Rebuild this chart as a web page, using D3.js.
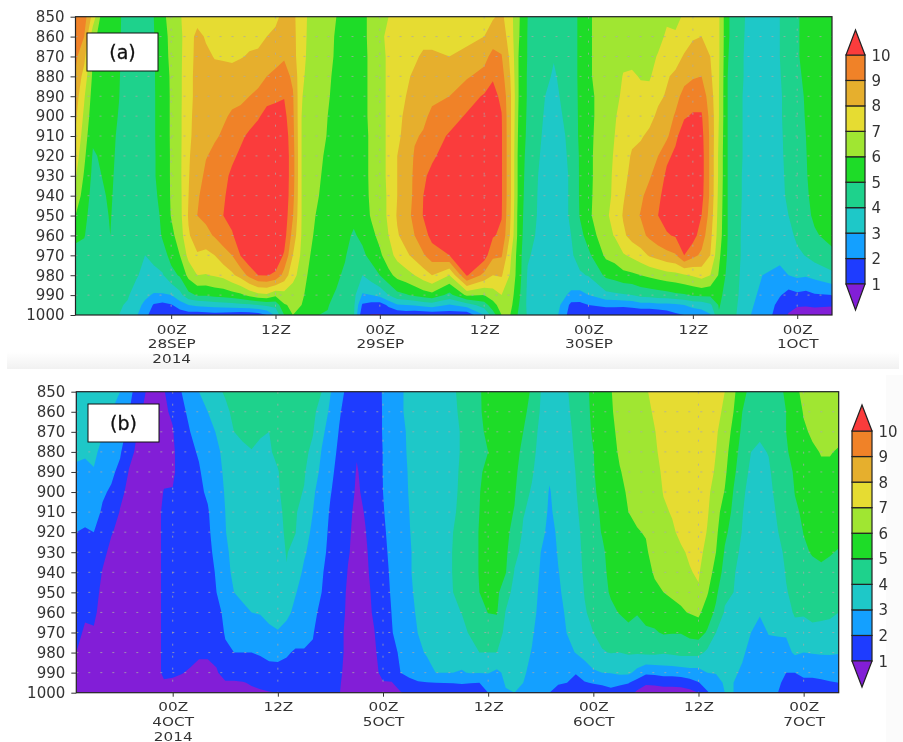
<!DOCTYPE html>
<html><head><meta charset="utf-8">
<script src="https://cdn.jsdelivr.net/npm/d3@7/dist/d3.min.js"></script>
<style>html,body{margin:0;padding:0;background:#fff}svg{display:block}</style>
</head><body><svg id="c" width="903" height="742"></svg>
<script>
const levels=[850,860,870,880,890,900,910,920,930,940,950,960,970,980,990,995,1000];
const levelTicks=d3.range(850,1001,10);
const thresholds=[1,2,3,4,5,6,7,8,9,10];
const colors=["#821ed7","#1e3cff","#14a0ff","#1ec8c8","#1ed28c","#1edc28","#a0e632","#e6dc32","#e6af2d","#f08228","#fa3c3c"];
const hourTicks=[0,12,24,36,48,60,72];
const tickLinesA=[["00Z","28SEP","2014"],["12Z"],["00Z","29SEP"],["12Z"],["00Z","30SEP"],["12Z"],["00Z","1OCT"]];
const tickLinesB=[["00Z","4OCT","2014"],["12Z"],["00Z","5OCT"],["12Z"],["00Z","6OCT"],["12Z"],["00Z","7OCT"]];
const hoursA=[-11,-10,-9,-8,-7,-6,-5,-4,-3,-2,-1,0,1,2,3,4,5,6,7,8,9,10,11,12,13,14,15,16,17,18,19,20,21,22,23,24,25,26,27,28,29,30,32,34,36,37,38,39,40,41,43,44,45,46,47,48,50,51,52,53,54,55,56,57,58,59,60,61,62,63,64,65,66,67,68,69,70,71,72,73,74,76];
const valuesA=[
[9.8,9.5,9.2,8.9,8.5,8.2,7.9,7.5,7.1,6.6,6.0,5.2,4.7,4.5,4.3,4.2,4.1],
[9.5,9,8.3,7.6,7.1,6.8,6.5,6.2,5.9,5.6,5.3,5.05,4.7,4.5,4.3,4.2,4.1],
[7.6,6.3,6.0,5.8,5.6,5.4,5.15,4.9,4.75,4.6,4.5,4.5,4.5,4.4,4.3,4.2,4.1],
[5.7,5.6,5.5,5.4,5.4,5.3,5.2,5.1,5.0,4.9,4.8,4.7,4.6,4.5,4.3,4.2,4.1],
[5.4,5.4,5.3,5.3,5.3,5.3,5.25,5.2,5.15,5.1,5.05,5.0,4.7,4.5,4.3,4.2,4.1],
[5.1,5.1,5.1,5.05,5.02,4.95,4.85,4.8,4.75,4.7,4.65,4.6,4.5,4.4,4.2,4.1,4.0],
[4.7,4.6,4.6,4.6,4.5,4.5,4.5,4.5,4.5,4.5,4.4,4.4,4.4,4.3,4.1,3.9,3.7],
[4.6,4.5,4.5,4.5,4.5,4.5,4.5,4.5,4.5,4.5,4.4,4.4,4.3,4.1,3.6,3.3,3.1],
[4.8,4.7,4.6,4.6,4.6,4.6,4.6,4.6,4.6,4.5,4.4,4.2,4.0,3.7,3.2,2.8,2.4],
[5.0,4.95,4.9,4.9,4.9,4.9,4.9,4.9,4.9,4.8,4.6,4.4,4.2,3.8,2.9,1.9,1.3],
[5.8,5.7,5.6,5.6,5.5,5.5,5.5,5.4,5.4,5.3,5.2,5.1,4.6,3.9,2.9,1.7,1.1],
[6.3,6.2,6.2,6.1,6.1,6.1,6.1,6.1,6.1,6.1,6.05,5.7,5.3,4.7,3.0,1.9,1.4],
[6.9,6.8,6.8,6.8,6.8,6.8,6.8,6.8,6.8,6.75,6.7,6.5,6.0,5.1,3.7,2.5,1.4],
[7.5,7.5,7.6,7.7,7.7,7.8,7.8,7.9,7.95,8.0,8.1,7.9,7.3,6.3,4.7,3.0,1.5],
[7.6,8.3,8.3,8.3,8.3,8.3,8.4,8.5,8.6,8.9,9.0,8.5,7.9,7.0,5.1,3.2,1.4],
[7.5,7.9,8.2,8.3,8.4,8.5,8.7,8.95,9.2,9.3,9.25,8.7,7.7,6.95,5.1,3.3,1.5],
[7.3,7.5,7.95,8.3,8.5,8.7,8.9,9.2,9.5,9.6,9.6,9.1,8.0,7.1,5.3,3.4,1.6],
[7.3,7.5,7.9,8.35,8.6,8.9,9.1,9.4,9.7,9.9,10.0,9.5,8.6,7.3,5.4,3.5,1.5],
[7.3,7.5,7.9,8.2,8.8,9.1,9.3,9.8,10.2,10.3,10.3,9.9,9.0,7.8,5.6,3.6,1.4],
[7.4,7.6,7.95,8.4,8.8,9.25,9.8,10.2,10.6,10.8,10.8,10.5,10.05,8.4,5.8,3.7,1.3],
[7.5,7.8,8.07,8.5,9.0,9.5,10.2,10.8,11,11,11,11,10.8,9.3,6.3,3.8,1.3],
[7.6,7.85,8.1,8.7,9.2,9.9,10.4,11.1,11.1,11.1,11.1,11.1,11,10.0,6.7,4,1.5],
[7.7,8.0,8.5,9.0,9.7,10.3,10.9,11.1,11.2,11.2,11.2,11.2,11.1,10.05,6.8,4.2,2.0],
[7.7,8.3,8.7,9.2,9.8,10.4,10.8,11,11,11,11,11,10.6,9.85,6.2,4.3,3.2],
[8.4,8.6,8.9,9.4,9.95,10.3,10.6,10.7,10.7,10.7,10.6,10.4,9.9,8.6,6.6,5.9,5.0],
[8.2,8.3,8.4,8.8,9.1,9.2,9.3,9.4,9.4,9.3,9.05,8.6,8.0,7.3,6.5,6.2,6.0],
[7.5,7.4,7.3,7.2,7.05,7.0,7.0,7.0,7.0,7.0,7.0,6.95,6.8,6.6,6.3,6.0,5.6],
[6.7,6.7,6.7,6.6,6.6,6.6,6.6,6.5,6.5,6.4,6.3,6.2,6.0,5.7,5.3,5.1,5.0],
[6.5,6.5,6.5,6.5,6.4,6.4,6.3,6.2,6.1,6.0,5.8,5.6,5.4,5.3,5.2,5.1,5.0],
[6.3,6.3,6.2,6.15,6.1,6.0,5.95,5.8,5.7,5.6,5.5,5.4,5.3,5.2,5.1,5.05,4.95],
[6.0,5.9,5.9,5.8,5.7,5.6,5.5,5.4,5.4,5.3,5.3,5.3,5.2,5.1,4.95,4.75,4.6],
[5.5,5.5,5.5,5.5,5.4,5.4,5.4,5.4,5.4,5.3,5.3,5.2,5.05,4.9,4.6,4.4,4.2],
[5.5,5.5,5.5,5.5,5.5,5.5,5.4,5.4,5.4,5.3,5.2,4.9,4.7,4.5,4.3,4.2,4.1],
[5.6,5.6,5.6,5.6,5.6,5.6,5.6,5.6,5.6,5.5,5.4,5.2,4.8,4.0,2.9,1.85,1.2],
[6.4,6.4,6.3,6.3,6.3,6.3,6.2,6.2,6.2,6.2,6.1,5.7,5.3,4.5,3.0,1.6,0.95],
[6.9,6.9,6.8,6.8,6.8,6.8,6.8,6.8,6.8,6.7,6.7,6.3,5.8,5.0,3.3,1.5,0.95],
[7.0,7.1,7.1,7.1,7.1,7.1,7.1,7.1,7.1,7.1,7.1,7.0,6.6,5.7,4.0,2.2,1.2],
[7.3,7.4,7.5,7.5,7.6,7.7,7.8,8.0,8.0,8.0,8.1,7.9,7.3,6.3,4.7,2.9,1.2],
[7.4,7.6,7.8,7.9,8.0,8.2,8.3,8.4,8.4,8.5,8.6,8.4,7.8,6.6,4.9,3.0,1.3],
[7.5,7.7,7.9,8.1,8.4,8.7,8.9,9.1,9.2,9.2,9.3,9.0,8.3,7.0,5.2,3.1,1.2],
[7.5,7.8,8.1,8.4,8.7,8.8,9.1,9.6,9.8,10,10.05,9.6,8.9,7.5,5.5,3.3,1.2],
[7.5,7.8,8.1,8.5,8.8,9.2,9.6,9.8,10.3,10.6,10.6,10.3,9.5,8.0,5.7,3.5,1.3],
[7.2,7.6,8.0,8.5,9.0,9.6,10.1,10.6,10.9,11,11,10.8,10.0,7.0,4.7,2.9,1.4],
[7.4,7.8,8.2,8.9,9.6,10.1,10.7,11,11,11,11,11,10.8,10.1,6.2,3.5,1.3],
[7.6,8.0,8.7,9.3,10.1,10.6,11,11,11,11,11,10.9,10.5,8.7,6.0,4.5,3.0],
[7.9,8.5,9.3,9.9,10.3,10.5,10.6,10.6,10.6,10.5,10.3,10.1,9.2,8.0,6.5,5.6,4.5],
[8.2,8.6,9.05,9.4,9.8,10.05,10.1,10.1,10.1,10.1,10.05,9.8,9.1,8.1,7.0,6.5,6.0],
[7.4,7.5,7.8,8.0,8.2,8.2,8.2,8.2,8.2,8.2,8.1,7.9,7.2,6.9,6.5,6.3,6.0],
[6.1,6.05,5.9,5.9,5.9,5.8,5.7,5.6,5.6,5.6,5.5,5.5,5.4,5.4,5.2,5.0,4.8],
[5.0,4.95,4.95,4.9,4.9,4.85,4.8,4.7,4.6,4.5,4.45,4.3,4.1,3.9,3.8,3.8,3.9],
[4.7,4.6,4.5,4.2,4.0,3.9,3.8,3.7,3.6,3.6,3.6,3.6,3.5,3.5,3.5,3.5,3.5],
[4.4,4.3,4.05,3.9,3.8,3.7,3.6,3.6,3.5,3.5,3.5,3.4,3.4,3.4,3.4,3.3,3.2],
[4.5,4.4,4.3,4.2,4.1,4.0,3.9,3.8,3.8,3.8,3.8,3.7,3.6,3.5,3.2,2.9,2.8],
[4.5,4.5,4.5,4.5,4.4,4.3,4.2,4.2,4.1,4.1,4.1,4.0,3.9,3.6,2.8,1.7,1.2],
[5.2,5.2,5.2,5.2,5.2,5.2,5.2,5.1,5.1,5.1,5.05,4.7,4.3,3.9,2.7,1.7,1.1],
[5.9,5.9,5.9,5.9,5.8,5.8,5.8,5.8,5.8,5.8,5.8,5.4,4.8,4.05,3.0,2.0,1.2],
[6.4,6.4,6.4,6.4,6.4,6.4,6.5,6.6,6.6,6.7,6.9,6.7,6.2,5.2,3.7,2.2,1.3],
[6.5,6.5,6.5,6.6,6.7,6.9,7.0,7.1,7.2,7.2,7.2,7.05,6.4,5.4,3.8,2.2,1.3],
[6.5,6.6,6.8,7.05,7.2,7.4,7.5,7.6,7.7,7.9,8.1,7.8,6.9,5.7,3.9,2.2,1.2],
[6.5,6.6,6.8,7.1,7.3,7.5,7.8,8.1,8.3,8.5,8.7,8.4,7.2,5.8,4.0,2.3,1.2],
[6.5,6.6,6.8,6.95,7.2,7.6,7.9,8.3,8.6,8.85,9.05,8.7,7.6,6.0,4.3,2.6,0.95],
[6.5,6.6,6.8,6.9,7.3,7.7,8.2,8.6,8.9,9.3,9.5,9.2,8.1,6.2,4.4,2.6,0.95],
[6.7,6.8,7.05,7.4,7.8,8.2,8.6,9.0,9.4,9.8,10.0,9.6,8.4,6.4,4.5,2.7,1.1],
[6.9,7.1,7.5,7.9,8.1,8.6,8.8,9.8,10.2,10.4,10.4,9.9,8.7,6.6,4.6,2.7,1.4],
[6.8,7.1,7.6,8.2,8.7,9.1,9.8,10.2,10.6,10.7,10.6,10.1,8.9,6.7,4.8,2.8,1.8],
[7.1,7.5,8.1,8.7,9.3,9.9,10.5,10.8,10.9,10.9,10.8,10.4,10.0,6.9,4.9,3.0,2.0],
[7.4,7.9,8.4,8.9,9.6,10.1,10.7,10.9,10.9,10.9,10.9,10.4,9.3,7.1,5.1,3.3,2.3],
[7.6,8,8.5,9,9.6,10.1,10.3,10.4,10.4,10.3,10.0,9.5,8.8,7.4,5.2,3.4,2.5],
[7.6,7.8,8.0,8.2,8.5,8.7,8.8,8.8,8.8,8.8,8.6,8.3,8.0,7.0,5.2,3.8,2.9],
[7.1,7.1,7.1,7.05,7.0,7.0,6.9,6.8,6.8,6.7,6.6,6.5,6.2,5.9,5.3,5.1,4.9],
[5.1,5.1,5.05,5.0,5.0,5.0,5.0,5.0,5.0,5.0,5.0,5.0,4.9,4.7,4.5,4.4,4.4],
[4.6,4.6,4.5,4.5,4.5,4.5,4.5,4.5,4.5,4.5,4.5,4.4,4.4,4.3,4.2,4.1,4.0],
[4.0,3.95,3.9,3.9,3.8,3.8,3.8,3.8,3.7,3.7,3.6,3.6,3.6,3.5,3.4,3.3,3.2],
[3.7,3.7,3.6,3.6,3.6,3.6,3.6,3.6,3.5,3.5,3.5,3.5,3.4,3.3,3.1,3.0,2.9],
[3.6,3.5,3.5,3.5,3.5,3.5,3.5,3.4,3.4,3.4,3.4,3.4,3.3,3.0,2.8,2.7,2.6],
[3.6,3.5,3.5,3.5,3.5,3.5,3.5,3.5,3.5,3.5,3.5,3.4,3.3,2.9,2.5,2.3,2.1],
[4.0,4.0,4.0,3.95,3.9,3.9,3.85,3.8,3.8,3.7,3.65,3.5,3.1,2.9,2.1,1.6,1.3],
[4.5,4.5,4.4,4.4,4.3,4.3,4.3,4.3,4.2,4.2,4.0,3.7,3.3,3.0,1.6,1.2,0.95],
[4.9,4.9,4.9,4.8,4.7,4.7,4.6,4.6,4.6,4.5,4.4,4.2,3.8,3.2,1.8,1.05,0.8],
[5.3,5.3,5.3,5.2,5.1,5.05,5.0,4.95,4.9,4.8,4.7,4.6,4.05,3.1,1.7,1.05,0.7],
[5.6,5.6,5.6,5.6,5.6,5.6,5.5,5.5,5.5,5.4,5.2,4.85,4.4,3.3,1.9,1.1,0.7],
[5.7,5.7,5.7,5.7,5.7,5.6,5.6,5.6,5.6,5.6,5.5,5.4,4.7,3.8,2.0,1.05,0.7]
];
const hoursB=d3.range(-11,77);
const valuesB=[
[3.4,3.3,3.2,3.1,2.9,2.6,2.3,2.0,1.8,1.6,1.4,1.25,1.1,1.0,0.9,0.85,0.8],
[3.4,3.3,3.2,3.05,2.9,2.6,2.3,1.9,1.7,1.5,1.3,1.05,0.95,.9,.85,.8,.8],
[3.4,3.3,3.2,3.15,2.95,2.6,2.3,2.0,1.75,1.5,1.3,1.1,0.95,.9,.8,.8,.8],
[3.3,3.2,3.05,2.8,2.4,2.1,1.9,1.6,1.2,.95,.8,.8,.8,.8,.8,.8,.8],
[3.1,3.0,2.7,2.4,2.15,1.9,1.5,1.05,.8,.7,.7,.7,.7,.7,.7,.7,.7],
[3.0,2.7,2.4,2.1,1.8,1.2,.95,.8,.7,.7,.7,.7,.7,.7,.7,.7,.7],
[2.3,2.05,1.75,1.3,.95,.8,.7,.7,.7,.7,.7,.7,.7,.7,.7,.7,.7],
[1.6,1.2,.97,.8,.7,.6,.6,.6,.6,.6,.6,.6,.6,.6,.6,.6,.6],
[.95,.8,.7,.7,.7,.7,.7,.7,.7,.7,.7,.7,.7,.7,.7,.7,.7],
[.8,.8,.8,.8,.8,.8,.8,.8,.8,.8,.8,.8,.8,.8,.8,.8,.8],
[.95,.9,.85,.8,.9,1.02,1.1,1.1,1.1,1.1,1.1,1.1,1.1,1.1,1.1,.95,.8],
[1.4,1.1,.95,.85,.85,1.05,1.1,1.2,1.3,1.3,1.3,1.3,1.3,1.2,1.05,.95,.8],
[2.0,1.8,1.6,1.45,1.4,1.3,1.3,1.3,1.3,1.25,1.25,1.2,1.2,1.1,1.02,.9,.8],
[2.5,2.2,2.0,1.8,1.7,1.6,1.5,1.4,1.4,1.4,1.35,1.3,1.3,1.15,.95,.9,.8],
[3.0,2.7,2.45,2.1,1.9,1.8,1.7,1.6,1.5,1.4,1.35,1.3,1.2,1.05,.9,.85,.8],
[3.4,3.0,2.7,2.55,2.4,2.15,1.9,1.8,1.7,1.6,1.5,1.4,1.3,1.05,.9,.85,.8],
[3.8,3.5,3.05,2.85,2.8,2.7,2.6,2.5,2.3,2.1,2.0,1.6,1.4,1.15,.95,.85,.8],
[4.1,3.8,3.4,3.2,3.1,3.05,3.0,2.95,2.8,2.7,2.4,2.3,2.1,1.8,1.2,.95,.8],
[4.5,4.2,4.0,3.9,3.8,3.7,3.6,3.5,3.3,3.2,3.0,2.7,2.3,2.0,1.2,.95,.85],
[4.7,4.4,4.1,3.9,3.8,3.7,3.6,3.6,3.5,3.3,3.1,2.9,2.3,2.0,1.3,.97,.85],
[4.8,4.5,4.2,3.97,3.9,3.8,3.7,3.6,3.5,3.4,3.2,3.0,2.5,2.0,1.4,1.05,.9],
[4.7,4.4,4.05,3.9,3.8,3.7,3.65,3.6,3.5,3.4,3.2,3.05,2.6,2.1,1.5,1.1,.95],
[4.7,4.4,4.0,3.9,3.8,3.8,3.7,3.7,3.6,3.5,3.4,3.2,2.85,2.3,1.6,1.2,.97],
[4.6,4.5,4.4,4.2,3.95,3.9,3.8,3.8,3.6,3.5,3.4,3.3,2.95,2.4,1.55,1.25,1.0],
[4.8,4.7,4.6,4.5,4.4,4.3,4.2,4.1,4.05,3.95,3.5,3.2,2.7,2.1,1.7,1.4,1.2],
[4.7,4.6,4.5,4.4,4.3,4.2,4.1,4.03,3.7,3.4,3.05,2.8,2.4,1.9,1.7,1.5,1.3],
[4.5,4.4,4.3,4.2,4.1,3.95,3.6,3.3,3.1,2.85,2.7,2.5,2.2,1.95,1.7,1.5,1.3],
[4.3,4.2,4.05,3.8,3.4,3.1,3.0,2.85,2.7,2.5,2.4,2.2,2.05,1.9,1.5,1.4,1.3],
[4.0,3.6,3.2,2.95,2.8,2.7,2.5,2.4,2.3,2.1,2.0,1.8,1.6,1.5,1.4,1.3,1.2],
[3.05,2.8,2.6,2.4,2.2,2.05,1.9,1.8,1.7,1.6,1.5,1.4,1.3,1.2,1.1,1.1,1.05],
[2.4,2.1,1.95,1.8,1.7,1.6,1.5,1.5,1.4,1.4,1.3,1.3,1.2,1.2,1.1,1.05,1.02],
[1.7,1.6,1.5,1.5,1.4,1.3,1.2,1.1,1.05,.97,.9,.85,.8,.8,.8,.8,.8],
[1.5,1.4,1.3,1.05,.95,.9,.8,.8,.8,.8,.8,.8,.8,.8,.8,.8,.8],
[1.5,1.4,1.35,1.3,1.2,1.15,1.05,.98,.9,.85,.8,.8,.8,.8,.8,.8,.8],
[1.7,1.6,1.6,1.55,1.5,1.45,1.4,1.35,1.3,1.25,1.15,1.08,.98,.9,.85,.85,.85],
[2.05,2.05,2.05,2.02,2.02,2.0,1.95,1.9,1.8,1.7,1.6,1.5,1.4,1.3,1.15,.97,.9],
[2.6,2.6,2.5,2.5,2.4,2.4,2.3,2.2,2.2,2.15,2.1,2.02,1.95,1.6,1.2,.98,.9],
[2.9,2.9,2.85,2.8,2.8,2.8,2.7,2.7,2.7,2.6,2.6,2.5,2.4,2.2,2.0,1.2,.97],
[3.2,3.2,3.1,3.1,3.05,3.03,3.0,2.95,2.9,2.9,2.85,2.8,2.6,2.4,2.1,1.9,1.1],
[3.5,3.5,3.5,3.4,3.4,3.4,3.4,3.4,3.3,3.3,3.2,3.1,3.02,2.8,2.3,1.95,1.3],
[3.6,3.6,3.6,3.5,3.5,3.5,3.5,3.5,3.5,3.5,3.4,3.3,3.2,3.1,2.6,1.98,1.4],
[3.6,3.6,3.6,3.6,3.6,3.6,3.6,3.6,3.6,3.5,3.5,3.4,3.3,3.2,3.0,2.0,1.4],
[3.7,3.7,3.7,3.7,3.7,3.7,3.7,3.6,3.6,3.6,3.6,3.5,3.4,3.3,3.0,2.02,1.5],
[3.9,3.85,3.85,3.85,3.85,3.9,3.95,4.0,4.05,4.05,4.0,3.85,3.6,3.3,3.0,2.05,1.1],
[4.2,4.15,4.05,4.05,4.1,4.1,4.1,4.1,4.15,4.15,4.1,4.02,3.8,3.3,2.95,2.1,1.3],
[4.6,4.6,4.6,4.6,4.6,4.6,4.6,4.6,4.6,4.6,4.5,4.4,4.1,3.7,3.05,2.05,1.2],
[4.9,4.9,4.9,4.9,4.95,4.98,5.0,5.05,5.05,5.05,5.0,4.7,4.4,4.0,3.05,2.0,1.3],
[5.4,5.3,5.1,5.0,5.1,5.2,5.3,5.3,5.3,5.3,5.2,5.02,4.5,4.0,3.05,2.5,2.0],
[5.6,5.6,5.5,5.5,5.5,5.5,5.5,5.5,5.5,5.4,5.2,5.05,4.6,4.0,2.8,2.5,2.2],
[5.5,5.4,5.4,5.4,5.4,5.4,5.3,5.3,5.2,5.05,4.4,3.95,3.7,3.5,3.2,3.1,2.9],
[5.4,5.4,5.3,5.3,5.2,5.1,4.95,4.6,4.2,3.95,3.7,3.6,3.5,3.4,3.2,3.1,3.0],
[5.3,5.2,5.0,4.8,4.6,4.3,4.05,3.9,3.8,3.7,3.6,3.5,3.4,3.3,3.1,3.0,2.9],
[4.9,4.7,4.5,4.3,4.1,3.9,3.8,3.7,3.6,3.5,3.4,3.3,3.1,2.95,2.8,2.7,2.6],
[4.0,3.9,3.7,3.6,3.5,3.4,3.3,3.2,3.0,2.9,2.8,2.7,2.6,2.5,2.3,2.2,2.1],
[3.8,3.6,3.5,3.3,3.1,2.95,2.9,2.8,2.7,2.6,2.5,2.4,2.3,2.2,2.1,2.05,2.0],
[3.9,3.8,3.6,3.5,3.4,3.3,3.2,3.1,3.05,2.98,2.9,2.8,2.7,2.5,2.2,2.05,1.8],
[3.95,3.9,3.8,3.7,3.6,3.5,3.4,3.3,3.3,3.2,3.2,3.1,3.02,2.8,2.3,2.0,1.5],
[4.3,4.2,4.15,4.1,4.02,3.95,3.8,3.6,3.5,3.4,3.3,3.2,3.1,3.03,2.1,1.5,1.0],
[4.7,4.7,4.7,4.6,4.6,4.5,4.5,4.4,4.3,4.2,4.05,3.9,3.6,3.2,2.7,1.9,1.05],
[5.3,5.2,5.1,4.98,4.95,4.9,4.8,4.8,4.7,4.6,4.5,4.3,4.0,3.5,2.9,2.1,1.2],
[5.6,5.5,5.4,5.4,5.3,5.2,5.1,5.03,4.9,4.8,4.7,4.5,4.2,3.95,3.0,2.2,1.4],
[5.95,5.9,5.8,5.7,5.6,5.5,5.4,5.3,5.2,5.2,5.1,4.8,4.4,4.03,3.05,2.3,1.7],
[6.4,6.3,6.2,6.1,5.95,5.8,5.7,5.6,5.5,5.4,5.3,5.05,4.5,4.0,3.2,2.2,1.5],
[6.6,6.5,6.4,6.3,6.2,6.1,6.0,5.8,5.7,5.6,5.4,5.2,4.8,4.1,3.2,2.05,1.4],
[6.6,6.6,6.5,6.5,6.4,6.3,6.15,5.95,5.8,5.7,5.4,5.05,4.7,4.1,2.7,1.6,0.8],
[6.9,6.8,6.8,6.7,6.6,6.5,6.4,6.05,5.9,5.7,5.5,5.2,4.9,4.2,2.2,1.15,.5],
[7.3,7.1,6.97,6.9,6.8,6.7,6.6,6.4,6.3,6.1,5.8,5.4,4.9,4.2,2.25,1.2,.5],
[7.5,7.4,7.3,7.2,7.1,7.03,6.9,6.7,6.5,6.2,6.0,5.5,5.1,4.1,2.4,1.3,.55],
[7.6,7.6,7.5,7.4,7.3,7.2,7.05,6.9,6.6,6.3,6.1,5.8,5.05,4.2,2.4,1.3,.55],
[7.8,7.8,7.7,7.7,7.6,7.5,7.3,7.15,6.9,6.5,6.2,5.9,5.05,4.3,2.5,1.35,.6],
[7.8,7.8,7.8,7.8,7.7,7.6,7.5,7.3,7.1,6.95,6.5,6.05,5.3,4.3,2.6,1.6,.7],
[7.9,7.9,7.9,7.8,7.8,7.7,7.6,7.5,7.3,7.1,6.9,6.2,5.4,4.3,2.6,1.95,1.0],
[7.7,7.6,7.5,7.4,7.3,7.2,7.1,6.95,6.7,6.4,6.1,5.5,4.9,3.8,3.0,2.4,1.9],
[7.4,7.3,7.1,7.0,6.9,6.6,6.4,6.2,6.0,5.7,5.2,4.8,4.0,3.5,3.05,2.7,2.4],
[7.0,6.8,6.6,6.4,6.2,5.95,5.5,5.2,4.9,4.6,4.2,3.9,3.6,3.4,3.2,3.1,3.0],
[6.2,6.0,5.7,5.4,5.2,4.95,4.8,4.6,4.3,4.1,4.0,3.7,3.5,3.3,3.1,3.0,3.0],
[5.3,5.0,4.8,4.6,4.4,4.2,4.05,3.95,3.8,3.6,3.5,3.4,3.3,3.1,2.9,2.7,2.6],
[4.7,4.5,4.2,4.0,3.8,3.6,3.5,3.4,3.3,3.3,3.2,3.2,3.0,2.8,2.7,2.6,2.5],
[4.6,4.3,4.1,3.9,3.7,3.6,3.5,3.4,3.4,3.3,3.2,3.05,2.8,2.7,2.6,2.5,2.4],
[4.6,4.4,4.2,4.03,3.9,3.8,3.6,3.5,3.5,3.4,3.4,3.3,3.03,2.8,2.7,2.5,2.3],
[4.8,4.6,4.5,4.4,4.3,4.2,4.1,3.95,3.7,3.6,3.5,3.4,3.05,2.8,2.5,2.3,2.05],
[5.1,5,5,4.9,4.7,4.6,4.5,4.4,4.2,4.05,3.95,3.7,3.1,2.7,2.0,1.6,1.3],
[5.7,5.6,5.5,5.3,5.1,5.02,4.9,4.7,4.5,4.3,4.2,4.1,3.7,3.15,2.0,1.6,1.1],
[6.3,6.05,5.9,5.7,5.5,5.3,5.1,5.02,4.9,4.7,4.4,4.1,3.6,3.0,2.2,1.8,1.0],
[6.5,6.3,6.1,5.9,5.7,5.5,5.3,5.2,5.05,4.8,4.5,4.2,3.8,3.05,2.2,1.8,1.2],
[6.6,6.4,6.2,6.03,5.9,5.7,5.5,5.3,5.1,4.9,4.5,4.15,3.8,3.1,2.2,1.9,1.3],
[6.6,6.5,6.3,6.03,5.9,5.7,5.5,5.3,5.05,4.8,4.5,4.1,3.8,3.1,2.3,1.95,1.4],
[6.4,6.3,6.15,5.95,5.8,5.6,5.4,5.2,4.95,4.7,4.4,4.0,3.7,3.05,2.3,2.0,1.4]
];
const svg=d3.select("#c");
const defs=svg.append("defs");
const font='"DejaVu Sans",sans-serif';
const textColor="#333";
const fade=defs.append("linearGradient").attr("id","fade").attr("x1",0).attr("x2",0).attr("y1",0).attr("y2",1);
fade.append("stop").attr("offset",0).attr("stop-color","#fff");
fade.append("stop").attr("offset",1).attr("stop-color","#f1f1f1");
svg.append("rect").attr("x",7).attr("y",352).attr("width",892).attr("height",17).attr("fill","url(#fade)");
svg.append("rect").attr("x",886).attr("y",375).attr("width",17).attr("height",367).attr("fill","#fbfbfb");

function panel(id,label,hours,values,tickLines,box,barBox,labelBox){
  const x=d3.scaleLinear().domain([-11,76]).range([box.l,box.r]);
  const y=d3.scaleLinear().domain([850,1000]).range([box.t,box.b]);
  const nx=hours.length, ny=levels.length;
  const flat=[];
  for(let j=0;j<ny;j++)for(let i=0;i<nx;i++)flat.push(values[i][j]);
  const ix=d3.scaleLinear().domain(d3.range(nx)).range(hours).clamp(true);
  const iy=d3.scaleLinear().domain(d3.range(ny)).range(levels).clamp(true);
  const project=d3.geoTransform({point(px,py){this.stream.point(x(ix(px-.5)),y(iy(py-.5)));}});
  const path=d3.geoPath(project);
  defs.append("clipPath").attr("id","clip"+id).append("rect")
    .attr("x",box.l).attr("y",box.t).attr("width",box.r-box.l).attr("height",box.b-box.t);
  const root=svg.append("g").style("filter","blur(0.35px)");
  const plot=root.append("g").attr("clip-path",`url(#clip${id})`);
  plot.append("rect").attr("x",box.l).attr("y",box.t).attr("width",box.r-box.l).attr("height",box.b-box.t).attr("fill",colors[0]);
  const cs=d3.contours().size([nx,ny]).smooth(true).thresholds(thresholds)(flat);
  plot.selectAll("path.band").data(cs).join("path").attr("class","band")
    .attr("d",path).attr("fill",(d,i)=>colors[i+1]);
  const grid=root.append("g").attr("fill","none").attr("stroke","#aaa").attr("stroke-opacity",.75).attr("stroke-width",1).attr("stroke-dasharray","2,10");
  grid.selectAll("line.h").data(levelTicks.slice(1,-1)).join("line").attr("class","h")
    .attr("x1",box.l).attr("x2",box.r).attr("y1",y).attr("y2",y);
  grid.selectAll("line.v").data(hourTicks).join("line").attr("class","v")
    .attr("x1",x).attr("x2",x).attr("y1",box.t).attr("y2",box.b);
  root.append("rect").attr("x",box.l).attr("y",box.t).attr("width",box.r-box.l).attr("height",box.b-box.t)
    .attr("fill","none").attr("stroke","#222").attr("stroke-width",1.2);
  const ax=root.append("g").attr("transform",`translate(${box.l},0)`)
    .call(d3.axisLeft(y).tickValues(levelTicks).tickSize(5).tickPadding(6).tickFormat(d3.format("d")));
  ax.select(".domain").remove();
  const bx=root.append("g").attr("transform",`translate(0,${box.b})`)
    .call(d3.axisBottom(x).tickValues(hourTicks).tickSize(4).tickPadding(0).tickFormat(""));
  bx.select(".domain").remove();
  bx.selectAll("g.tick").each(function(d,i){
    const g=d3.select(this);
    g.select("text").remove();
    tickLines[i].forEach((s,k)=>g.append("text").attr("transform",`translate(0,${18.5+14.7*k}) scale(1.22,1)`)
      .attr("text-anchor","middle").attr("fill",textColor).attr("font-size",12.5).attr("font-family",font).text(s));
  });
  root.selectAll(".tick line").attr("stroke","#333");
  ax.selectAll("text").attr("font-size",15).attr("font-family",font).attr("fill",textColor);
  root.append("rect").attr("x",labelBox.x).attr("y",labelBox.y).attr("width",71).attr("height",38)
    .attr("fill","#fff").attr("stroke","#111").attr("stroke-width",1);
  root.append("text").attr("x",labelBox.x+35.5).attr("y",labelBox.y+26).attr("text-anchor","middle")
    .attr("font-family",font).attr("font-size",19).attr("stroke","#111").attr("stroke-width",.3).attr("fill","#111").text(label);
  // colour bar
  const cy=d3.scaleLinear().domain([1,10]).range([barBox.b,barBox.t]);
  const bar=root.append("g");
  const bandsData=thresholds.slice(0,-1).map((v,i)=>({lo:v,hi:thresholds[i+1],c:colors[i+1]}));
  bar.selectAll("rect").data(bandsData).join("rect")
    .attr("x",barBox.l).attr("width",barBox.r-barBox.l)
    .attr("y",d=>cy(d.hi)).attr("height",d=>cy(d.lo)-cy(d.hi))
    .attr("fill",d=>d.c).attr("stroke","#222").attr("stroke-width",1.2);
  const mid=(barBox.l+barBox.r)/2;
  bar.append("path").attr("d",`M${barBox.l},${barBox.t}L${mid},${barBox.tip0}L${barBox.r},${barBox.t}Z`)
    .attr("fill",colors[10]).attr("stroke","#222").attr("stroke-width",1.2);
  bar.append("path").attr("d",`M${barBox.l},${barBox.b}L${mid},${barBox.tip1}L${barBox.r},${barBox.b}Z`)
    .attr("fill",colors[0]).attr("stroke","#222").attr("stroke-width",1.2);
  bar.selectAll("text").data(thresholds).join("text")
    .attr("x",barBox.r+6.5).attr("y",d=>cy(d)+5.5).attr("font-size",15).attr("font-family",font).attr("fill",textColor).text(d=>d);
}
if(valuesA.length!==hoursA.length||valuesB.length!==hoursB.length||[...valuesA,...valuesB].some(r=>r.length!==levels.length))throw new Error("grid size");
panel("a","(a)",hoursA,valuesA,tickLinesA,{l:75.5,r:832,t:16.7,b:315},{l:846,r:865,t:55,b:284,tip0:30,tip1:310},{x:87,y:33});
panel("b","(b)",hoursB,valuesB,tickLinesB,{l:76.3,r:838.7,t:391.7,b:692.7},{l:852,r:872,t:431,b:661,tip0:405,tip1:687},{x:88,y:404});
</script></body></html>
